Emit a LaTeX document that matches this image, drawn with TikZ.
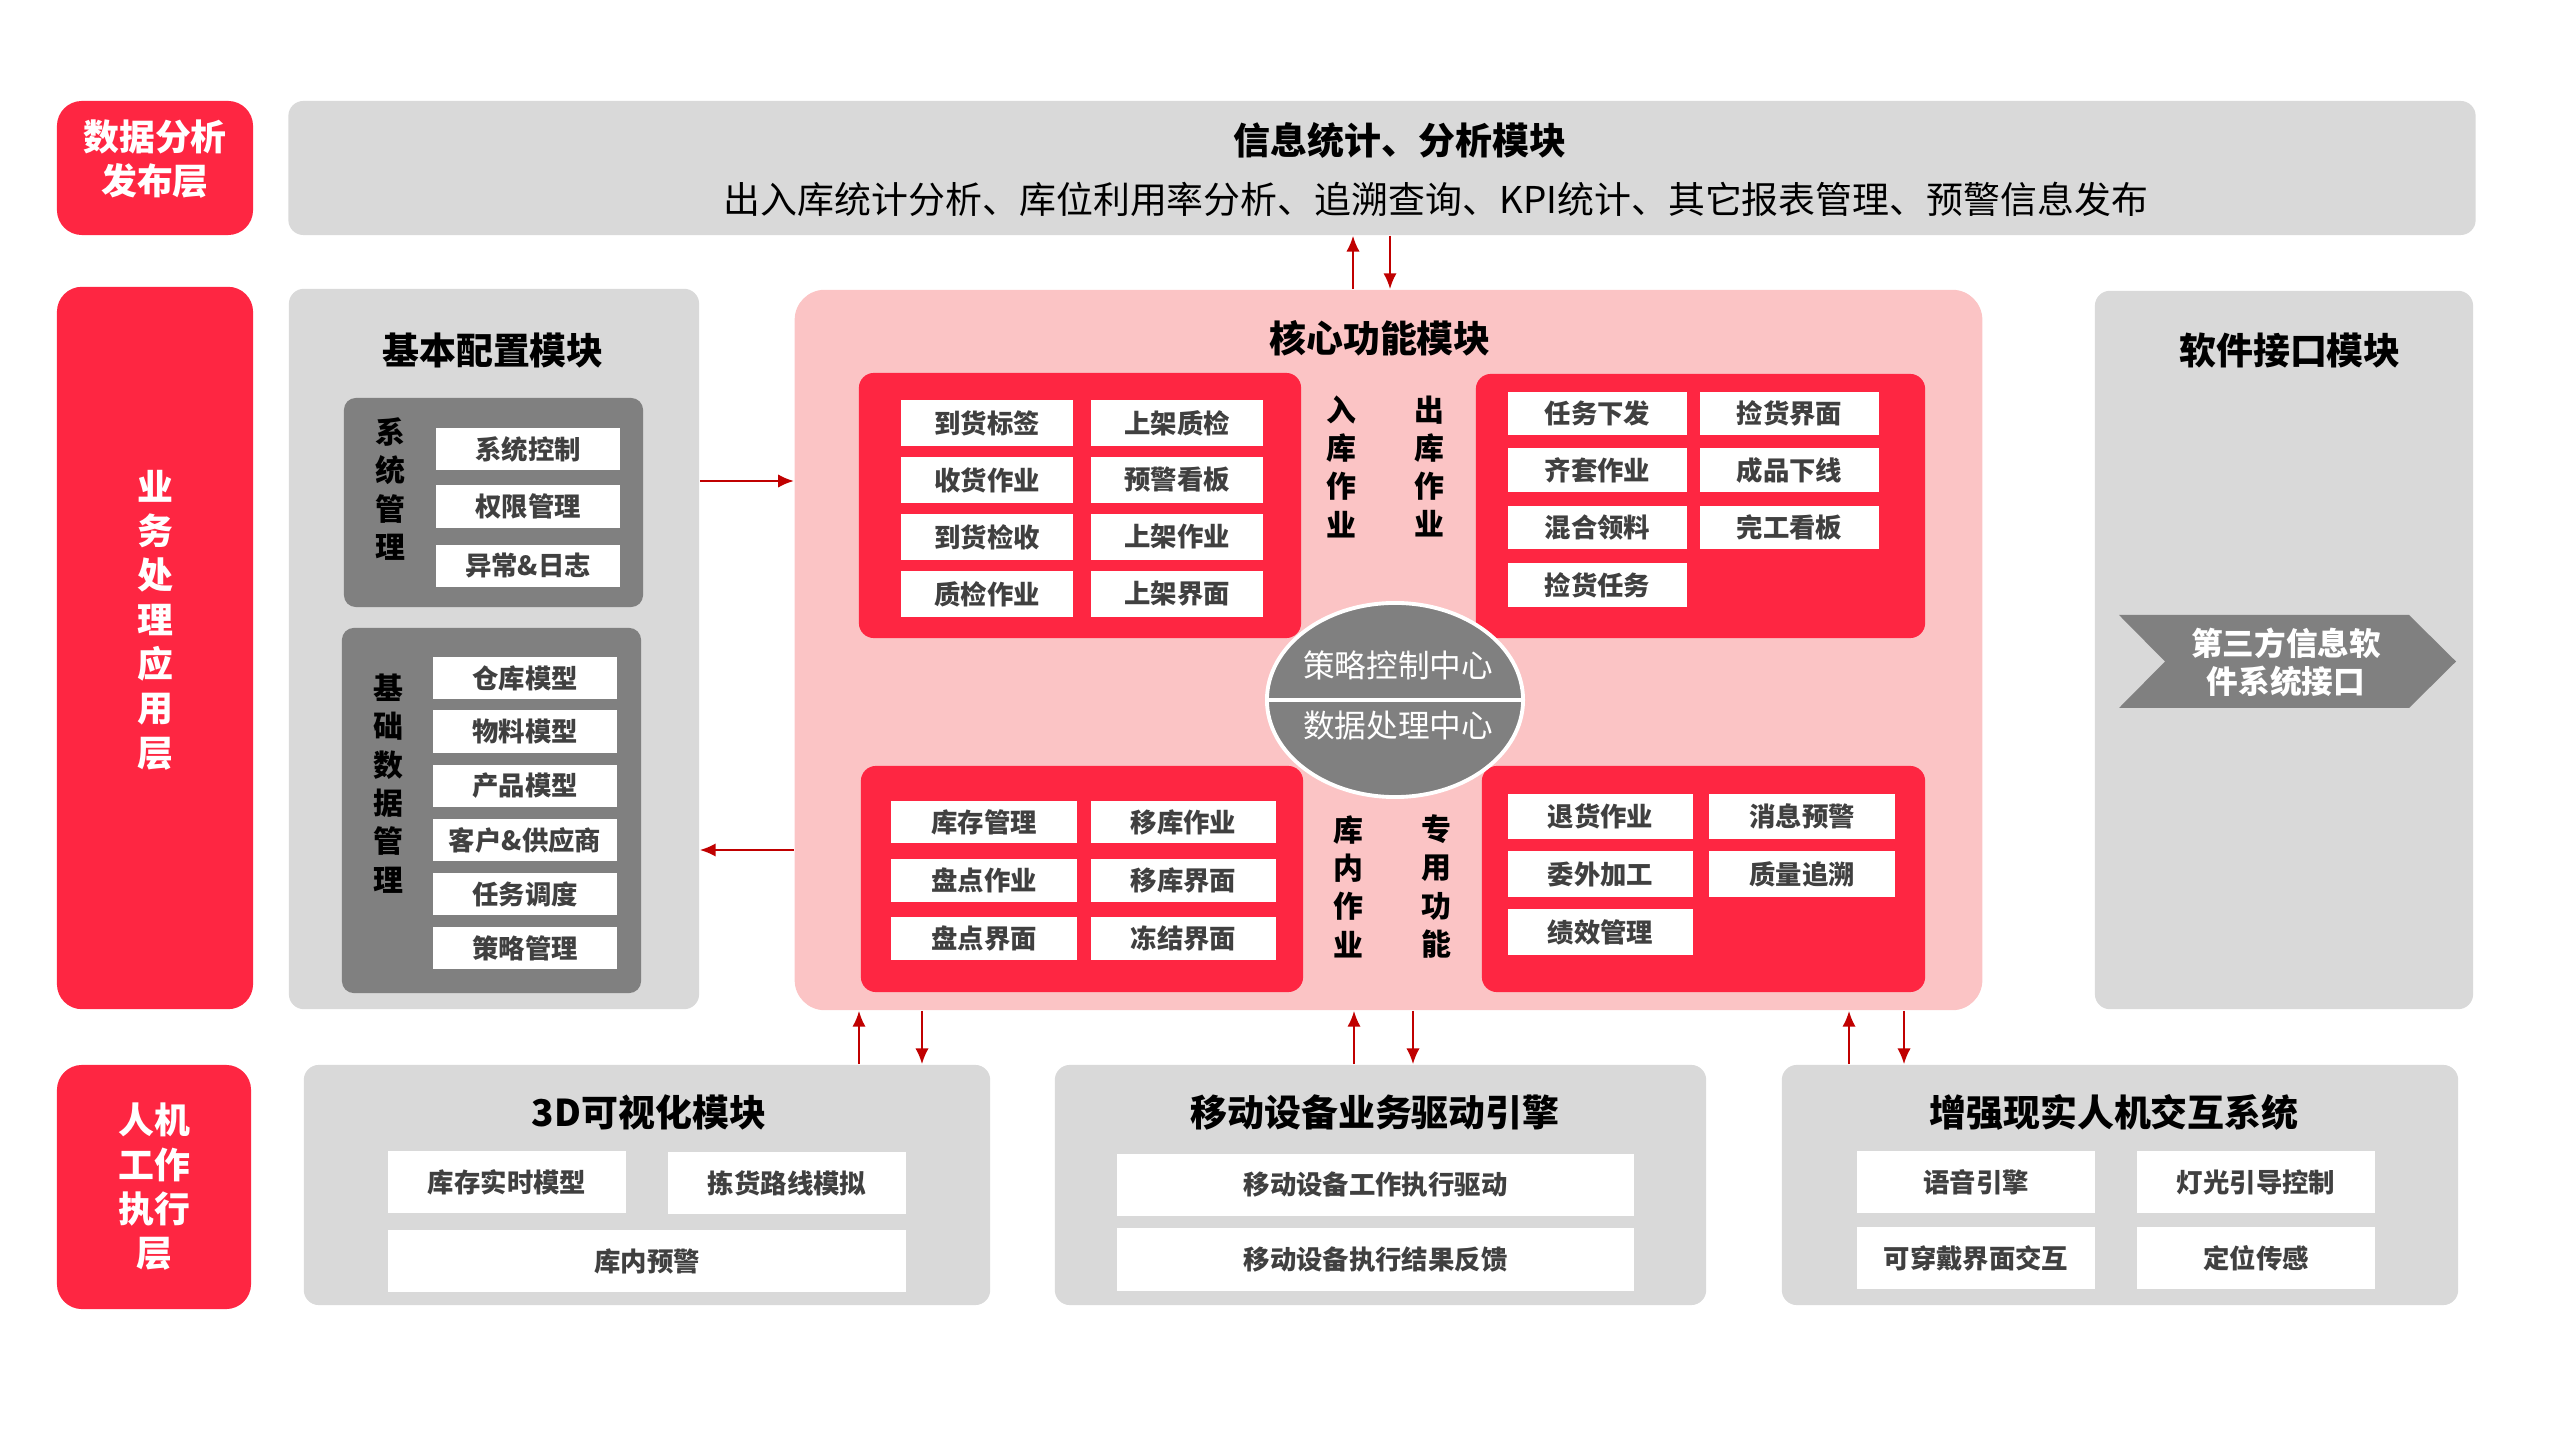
\documentclass[tikz,border=0pt]{standalone}
\usepackage{fontspec}
\setmainfont{Noto Sans CJK SC}
\usepackage{tikz}
\usetikzlibrary{arrows.meta,shapes.geometric}
\definecolor{lyr-red}{RGB}{254,38,66}
\definecolor{core-pink}{RGB}{251,196,197}
\definecolor{mod-gray}{RGB}{217,217,217}
\definecolor{grp-gray}{RGB}{128,128,128}
\definecolor{link-red}{RGB}{192,0,0}
\definecolor{item-ink}{RGB}{64,64,64}
\newcommand\fnttitle{\fontsize{10.5pt}{12.6pt}\selectfont\bfseries}
\newcommand\fntsub{\fontsize{10.5pt}{12.6pt}\selectfont}
\newcommand\fntlayer{\fontsize{10.2pt}{12.6pt}\selectfont\bfseries}
\newcommand\fntvert{\fontsize{8.5pt}{10.9pt}\selectfont\bfseries}
\newcommand\fnthub{\fontsize{9pt}{10.8pt}\selectfont}
\newcommand\fntitem{\fontsize{7.5pt}{9pt}\selectfont\bfseries}

\begin{document}
\begin{tikzpicture}[x=0.01cm, y=-0.01cm, >={Latex[length=4.5pt,width=3.8pt]},
    wh/.style 2 args={minimum width=#1cm, minimum height=#2cm},
    layer/.style={fill=lyr-red, rounded corners=0.25cm, inner sep=0pt,
                  text=white, font=\fntlayer, align=center},
    module/.style={fill=mod-gray, rounded corners=0.15cm, inner sep=0pt},
    group/.style={fill=grp-gray, rounded corners=0.12cm, inner sep=0pt},
    redgrp/.style={fill=lyr-red, rounded corners=0.15cm, inner sep=0pt},
    item/.style={fill=white, inner sep=0pt, font=\fntitem, text=item-ink},
    vtext/.style={font=\fntvert, align=center, inner sep=0pt},
    title/.style={font=\fnttitle, inner sep=0pt},
    link/.style={->, draw=link-red, line width=0.6pt}]
  \useasboundingbox (0,0) rectangle (2560,1440);

  % layers on the left
  \node[layer, wh={1.96}{1.34}] (lyrdata) at (155,168) {};
  \node[layer, fill=none] (lyrdatatxt) at (155,159) {数据分析\\发布层};
  \node[layer, wh={1.96}{7.22}] (lyrbiz) at (155,648) {};
  \node[layer, fill=none] (lyrbiztxt) at (155,620) {业\\务\\处\\理\\应\\用\\层};
  \node[layer, wh={1.94}{2.44}] (lyrhmi) at (154,1187) {人机\\工作\\执行\\层};

  % statistics module
  \node[module, wh={21.86}{1.34}] (stat) at (1382,168) {};
  \node[title] (stattitle) at (1400,140) {信息统计、分析模块};
  \node[font=\fntsub, inner sep=0pt] (statsub) at (1436,199)
        {出入库统计分析、库位利用率分析、追溯查询、KPI统计、其它报表管理、预警信息发布};

  % basic configuration module
  \node[module, wh={4.10}{7.20}] (basic) at (494,649) {};
  \node[title] (basictitle) at (493,351) {基本配置模块};
  \node[group, wh={2.99}{2.09}] (sysgrp) at (493.5,502.5) {};
  \node[vtext] (systxt) at (390,489) {系\\统\\管\\理};
  \node[item, wh={1.84}{0.42}] (sysctl) at (528,449) {系统控制};
  \node[item, wh={1.84}{0.42}] (sysauth) at (528,506.5) {权限管理};
  \node[item, wh={1.84}{0.42}] (syslog) at (528,566) {异常\&日志};
  \node[group, wh={2.99}{3.65}] (basegrp) at (491.5,810.5) {};
  \node[vtext] (basetxt) at (388,783.5) {基\\础\\数\\据\\管\\理};
  \node[item, wh={1.84}{0.42}] (whmodel) at (525,678) {仓库模型};
  \node[item, wh={1.84}{0.42}] (matmodel) at (525,731.5) {物料模型};
  \node[item, wh={1.84}{0.42}] (prodmodel) at (525,786) {产品模型};
  \node[item, wh={1.84}{0.42}] (partner) at (525,840) {客户\&供应商};
  \node[item, wh={1.84}{0.42}] (dispatch) at (525,894) {任务调度};
  \node[item, wh={1.84}{0.42}] (policy) at (525,948) {策略管理};

  % core module
  \node[fill=core-pink, rounded corners=0.3cm, inner sep=0pt, wh={11.87}{7.20}] (core) at (1388.5,650) {};
  \node[title] (coretitle) at (1380,338) {核心功能模块};
  \node[redgrp, wh={4.42}{2.65}] (inbox) at (1080,505.5) {};
  \node[item, wh={1.72}{0.45}] (arrtag) at (987,423) {到货标签};
  \node[item, wh={1.72}{0.45}] (receive) at (987,480) {收货作业};
  \node[item, wh={1.72}{0.45}] (arrcheck) at (987,537) {到货检收};
  \node[item, wh={1.72}{0.45}] (qcwork) at (987,594) {质检作业};
  \node[item, wh={1.72}{0.45}] (shelfqc) at (1177,423) {上架质检};
  \node[item, wh={1.72}{0.45}] (alertbd) at (1177,480) {预警看板};
  \node[item, wh={1.72}{0.45}] (shelfwork) at (1177,537) {上架作业};
  \node[item, wh={1.72}{0.45}] (shelfui) at (1177,594) {上架界面};
  \node[redgrp, wh={4.49}{2.64}] (outbox) at (1700.5,506) {};
  \node[item, wh={1.79}{0.43}] (taskout) at (1597.5,413.5) {任务下发};
  \node[item, wh={1.79}{0.43}] (kitting) at (1597.5,470) {齐套作业};
  \node[item, wh={1.79}{0.43}] (mixpick) at (1597.5,527.5) {混合领料};
  \node[item, wh={1.79}{0.43}] (picktask) at (1597.5,585) {捡货任务};
  \node[item, wh={1.79}{0.43}] (pickui) at (1789.5,413.5) {捡货界面};
  \node[item, wh={1.79}{0.43}] (offline) at (1789.5,470) {成品下线};
  \node[item, wh={1.79}{0.43}] (donebd) at (1789.5,527.5) {完工看板};
  \node[redgrp, wh={4.42}{2.26}] (stockbox) at (1082,879) {};
  \node[item, wh={1.86}{0.42}] (stockmgr) at (984,822) {库存管理};
  \node[item, wh={1.86}{0.42}] (countwork) at (984,880.5) {盘点作业};
  \node[item, wh={1.86}{0.42}] (countui) at (984,938.5) {盘点界面};
  \node[item, wh={1.85}{0.42}] (movework) at (1183.5,822) {移库作业};
  \node[item, wh={1.85}{0.42}] (moveui) at (1183.5,880.5) {移库界面};
  \node[item, wh={1.85}{0.42}] (freezeui) at (1183.5,938.5) {冻结界面};
  \node[redgrp, wh={4.43}{2.26}] (specbox) at (1703.5,879) {};
  \node[item, wh={1.85}{0.45}] (retwork) at (1600.5,816.5) {退货作业};
  \node[item, wh={1.85}{0.45}] (outsrc) at (1600.5,874) {委外加工};
  \node[item, wh={1.85}{0.45}] (perfmgr) at (1600.5,932) {绩效管理};
  \node[item, wh={1.85}{0.45}] (msgalert) at (1802,816.5) {消息预警};
  \node[item, wh={1.85}{0.45}] (qtrace) at (1802,874) {质量追溯};
  \node[vtext] (intxt) at (1341,466.5) {入\\库\\作\\业};
  \node[vtext] (outtxt) at (1429,466.5) {出\\库\\作\\业};
  \node[vtext] (stocktxt) at (1348,886.5) {库\\内\\作\\业};
  \node[vtext] (spectxt) at (1436,886.5) {专\\用\\功\\能};
  \node[ellipse, fill=grp-gray, draw=white, line width=1.1pt, inner sep=0pt, wh={2.56}{1.94}] (hub) at (1395,700) {};
  \draw[white, line width=1.1pt] (hub.west) -- (hub.east);
  \node[font=\fnthub, text=white, inner sep=0pt] (hubctl) at (1398,665) {策略控制中心};
  \node[font=\fnthub, text=white, inner sep=0pt] (hubdata) at (1398,726) {数据处理中心};

  % software interface module
  \node[module, wh={3.78}{7.18}] (soft) at (2284,650) {};
  \node[title] (softtitle) at (2290,351) {软件接口模块};
  \fill[grp-gray] (2119,615) -- (2409,615) -- (2456,661.5) -- (2409,708)
        -- (2119,708) -- (2165,661.5) -- cycle;
  \node[font=\fnthub\bfseries, text=white, align=center, inner sep=0pt] (thirdparty) at (2286,662)
        {第三方信息软\\件系统接口};

  % human-machine modules
  \node[module, wh={6.86}{2.40}] (vis) at (647,1185) {};
  \node[title] (vistitle) at (649,1112) {3D可视化模块};
  \node[item, wh={2.38}{0.62}] (stocklive) at (507,1182) {库存实时模型};
  \node[item, wh={2.38}{0.62}] (pathsim) at (787,1183) {拣货路线模拟};
  \node[item, wh={5.18}{0.62}] (inwarn) at (647,1261) {库内预警};
  \node[module, wh={6.51}{2.40}] (mobile) at (1380.5,1185) {};
  \node[title] (mobiletitle) at (1375,1112) {移动设备业务驱动引擎};
  \node[item, wh={5.17}{0.62}] (mobdrive) at (1375.5,1185) {移动设备工作执行驱动};
  \node[item, wh={5.17}{0.62}] (mobfeed) at (1375.5,1259.5) {移动设备执行结果反馈};
  \node[module, wh={6.76}{2.40}] (arsys) at (2120,1185) {};
  \node[title] (artitle) at (2114,1112) {增强现实人机交互系统};
  \node[item, wh={2.38}{0.62}] (voice) at (1976,1182) {语音引擎};
  \node[item, wh={2.38}{0.62}] (light) at (2256,1182) {灯光引导控制};
  \node[item, wh={2.38}{0.62}] (wear) at (1976,1258) {可穿戴界面交互};
  \node[item, wh={2.38}{0.62}] (locate) at (2256,1258) {定位传感};

  % links
  \draw[link] (core.north -| 1353,0) -- (stat.south -| 1353,0);
  \draw[link] (stat.south -| 1390,0) -- (core.north -| 1390,0);
  \draw[link] (basic.east |- 0,481) -- (core.west |- 0,481);
  \draw[link] (core.west |- 0,850) -- (basic.east |- 0,850);
  \draw[link] (vis.north -| 859,0) -- (core.south -| 859,0);
  \draw[link] (core.south -| 922,0) -- (vis.north -| 922,0);
  \draw[link] (mobile.north -| 1354,0) -- (core.south -| 1354,0);
  \draw[link] (core.south -| 1413,0) -- (mobile.north -| 1413,0);
  \draw[link] (arsys.north -| 1849,0) -- (core.south -| 1849,0);
  \draw[link] (core.south -| 1904,0) -- (arsys.north -| 1904,0);
\end{tikzpicture}
\end{document}
